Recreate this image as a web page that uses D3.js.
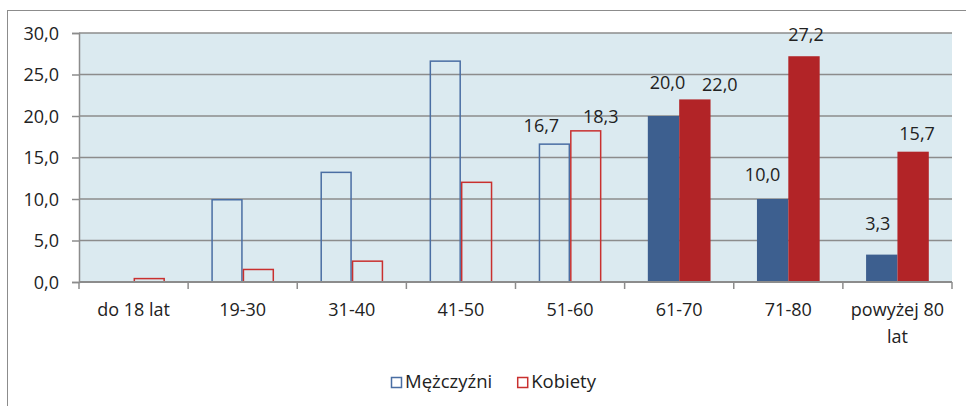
<!DOCTYPE html>
<html>
<head>
<meta charset="utf-8">
<script src="https://cdn.jsdelivr.net/npm/d3@7"></script>
<style>
  body { margin: 0; background: #fff; }
  text { font-family: "Open Sans", sans-serif; fill: #222; }
</style>
</head>
<body>
<div id="chart"></div>
<script>
// data
var categories = ["do 18 lat", "19-30", "31-40", "41-50", "51-60", "61-70", "71-80", "powyżej 80 lat"];
var series = ["Mężczyźni", "Kobiety"];
var men   = [0, 10.0, 13.3, 26.7, 16.7, 20.0, 10.0, 3.3];
var women = [0.5, 1.6, 2.6, 12.1, 18.3, 22.0, 27.2, 15.7];
// filled (true) or outlined (false) bars per category
var filled = [false, false, false, false, false, true, true, true];
// which categories carry value labels
var labelled = [false, false, false, false, true, true, true, true];
var yTicks = [0, 5, 10, 15, 20, 25, 30];

// label nudges, as placed in the original (dx from bar centre, gap above bar top)
var menLabelNudge   = [null, null, null, null, [-13, 11], [4, 27], [-10, 18], [-4, 25]];
var womenLabelNudge = [null, null, null, null, [15, 7], [25, 8], [2, 15], [4, 12]];

var W = 966, H = 406;
var margin = {top: 33, right: 14, bottom: 124, left: 79};
var colors = {stroke: ["#4a6ea3", "#c9302f"], fill: ["#3d5f8f", "#b22427"]};

var svg = d3.select("#chart").append("svg")
    .attr("width", W).attr("height", H);

// outer chart frame
svg.append("rect")
    .attr("x", 7.5).attr("y", 10.5)
    .attr("width", 1000).attr("height", 500)
    .attr("fill", "#fff").attr("stroke", "#8c8c8c").attr("stroke-width", 1);

var x = d3.scaleBand().domain(categories).range([margin.left, W - margin.right]);
var x1 = d3.scaleBand().domain(series).range([0, x.bandwidth()]).paddingOuter(0.74);
var y = d3.scaleLinear().domain([0, 30]).range([H - margin.bottom, margin.top]);

var pl = d3.formatLocale({decimal: ",", thousands: " ", grouping: [3], currency: ["", " zł"]});
var fmt = pl.format(".1f");

// plot background
svg.append("rect")
    .attr("x", x.range()[0]).attr("y", y(30))
    .attr("width", x.range()[1] - x.range()[0]).attr("height", y(0) - y(30))
    .attr("fill", "#dbeaf0");

// gridlines
svg.append("g").selectAll("line").data(yTicks.filter(function(d) { return d > 0; }))
  .enter().append("line")
    .attr("x1", x.range()[0]).attr("x2", x.range()[1])
    .attr("y1", function(d) { return y(d); }).attr("y2", function(d) { return y(d); })
    .attr("stroke", "#8c8c8c").attr("stroke-width", 1.5);

// bars
var rows = categories.map(function(c, i) {
  return {cat: c, i: i, vals: [men[i], women[i]]};
});
var groups = svg.append("g").selectAll("g").data(rows).enter().append("g")
    .attr("transform", function(d) { return "translate(" + x(d.cat) + ",0)"; });

groups.selectAll("rect")
  .data(function(d) {
    return series.map(function(s, k) { return {s: s, k: k, v: d.vals[k], filled: filled[d.i]}; });
  })
  .enter().append("rect")
    .filter(function(d) { return d.v > 0; })
    .attr("x", function(d) { return x1(d.s) + (d.filled ? 0 : 0.75); })
    .attr("y", function(d) { return y(d.v) + (d.filled ? 0 : 0.75); })
    .attr("width", function(d) { return x1.bandwidth() - (d.filled ? 0 : 1.5); })
    .attr("height", function(d) { return y(0) - y(d.v) - (d.filled ? 0 : 0.75); })
    .attr("fill", function(d) { return d.filled ? colors.fill[d.k] : "none"; })
    .attr("stroke", function(d) { return d.filled ? "none" : colors.stroke[d.k]; })
    .attr("stroke-width", 1.5);

// value labels
groups.each(function(d) {
  if (!labelled[d.i]) return;
  var g = d3.select(this);
  [menLabelNudge[d.i], womenLabelNudge[d.i]].forEach(function(n, k) {
    g.append("text")
      .attr("x", x1(series[k]) + x1.bandwidth() / 2 + n[0])
      .attr("y", y(d.vals[k]) - n[1])
      .attr("text-anchor", "middle")
      .style("font-size", "18px")
      .text(fmt(d.vals[k]));
  });
});

// y axis
var yAxis = svg.append("g")
    .attr("transform", "translate(" + margin.left + ",0)")
    .call(d3.axisLeft(y).tickValues(yTicks).tickFormat(fmt).tickSize(7).tickPadding(13));
yAxis.select(".domain").attr("stroke", "#8c8c8c").attr("stroke-width", 1.5);
yAxis.selectAll(".tick line").attr("stroke", "#8c8c8c").attr("stroke-width", 1.5);
yAxis.selectAll(".tick text").style("font-size", "18px").attr("fill", "#222")
    .style("font-family", "'Open Sans', sans-serif").attr("dy", "0.35em");

// x axis line and ticks at category boundaries
var xg = svg.append("g");
xg.append("line")
    .attr("x1", x.range()[0]).attr("x2", x.range()[1])
    .attr("y1", y(0)).attr("y2", y(0))
    .attr("stroke", "#8c8c8c").attr("stroke-width", 2);
var bounds = categories.map(function(c) { return x(c); }).concat([x.range()[1]]);
xg.selectAll(".tk").data(bounds).enter().append("line")
    .attr("x1", function(d) { return d; }).attr("x2", function(d) { return d; })
    .attr("y1", y(0)).attr("y2", y(0) + 7)
    .attr("stroke", "#8c8c8c").attr("stroke-width", 1.5);

// category labels, wrapped to the band width
xg.selectAll(".cl").data(categories).enter().append("text")
    .attr("text-anchor", "middle")
    .style("font-size", "18px")
    .each(function(c) {
      var t = d3.select(this), words = c.split(" "), lines = [], line = [];
      var cx = x(c) + x.bandwidth() / 2;
      words.forEach(function(w) {
        line.push(w);
        t.text(line.join(" "));
        if (this.getComputedTextLength() > x.bandwidth() - 6 && line.length > 1) {
          line.pop(); lines.push(line.join(" ")); line = [w];
        }
      }, this);
      lines.push(line.join(" "));
      t.text(null);
      lines.forEach(function(l, j) {
        t.append("tspan").attr("x", cx).attr("y", y(0) + 34 + j * 27).text(l);
      });
    });

// legend
var legend = svg.append("g");
var lx = 391;
series.forEach(function(s, k) {
  legend.append("rect")
      .attr("x", lx + 0.5).attr("y", 377.5).attr("width", 10).attr("height", 10)
      .attr("fill", "none").attr("stroke", colors.stroke[k]).attr("stroke-width", 1.5);
  var t = legend.append("text")
      .attr("x", lx + 14).attr("y", 388)
      .style("font-size", "18.5px")
      .text(s);
  lx += 14 + t.node().getComputedTextLength() + 25;
});
</script>
</body>
</html>
